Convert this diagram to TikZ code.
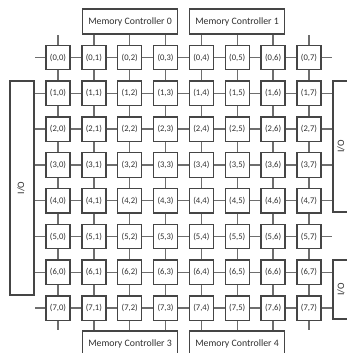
\documentclass[tikz,border=0pt]{standalone}
\usepackage{fontspec}
\setmainfont{Carlito}
\definecolor{boxc}{HTML}{454545}
\definecolor{linkc}{HTML}{6E6E6E}
\definecolor{txtc}{HTML}{303030}
\begin{document}
\begin{tikzpicture}[x=1pt,y=-1pt,
  router/.style={draw=boxc, fill=white, line width=1.3pt, minimum width=24pt, minimum height=24.5pt, inner sep=0pt, font=\fontsize{8.6}{10}\selectfont, text=txtc},
  mc/.style={draw=boxc, fill=white, line width=1.3pt, minimum width=95pt, minimum height=25pt, inner sep=0pt, font=\fontsize{9.8}{11}\selectfont, text=txtc},
  io/.style={draw=boxc, fill=white, line width=1.3pt, minimum width=24pt, inner sep=0pt},
  iolabel/.style={rotate=90, font=\fontsize{9.8}{11}\selectfont, text=txtc, inner sep=0pt},
  link/.style={draw=linkc, line width=1.3pt}]
\useasboundingbox (0,0) rectangle (347,353);
\clip (0,0) rectangle (347,353);
% routers
\foreach \i in {0,...,7}
  \foreach \j in {0,...,7}
    \node[router] (n\i\j) at ({58+35.85*\j},{57.5+35.8*\i}) {(\i,\j)};
% memory controllers
\node[mc] (mc0) at (130,21.5) {Memory Controller 0};
\node[mc] (mc1) at (237,21.5) {Memory Controller 1};
\node[mc] (mc3) at (130,343.5) {Memory Controller 3};
\node[mc] (mc4) at (237,343.5) {Memory Controller 4};
% I/O boxes
\node[io, minimum height=214pt] (iol) at (22,188) {};
\node[io, minimum height=131pt] (ioa) at (345,146.5) {};
\node[io, minimum height=59pt] (iob) at (345,289.5) {};
\node[iolabel] (liol) at (21,188) {I/O};
\node[iolabel] (lioa) at (341,146.5) {I/O};
\node[iolabel] (liob) at (341,289.5) {I/O};
% mesh links
\foreach \i in {0,...,7}
  \foreach \j/\k in {0/1,1/2,2/3,3/4,4/5,5/6,6/7} {
    \draw[link] (n\i\j.east) -- (n\i\k.west);
    \draw[link] (n\j\i.south) -- (n\k\i.north);
  }
% left and right edge links
\foreach \i in {0,...,7} {
  \draw[link] (n\i0.west) -- (n\i0.west -| iol.east);
  \draw[link] (n\i7.east) -- (n\i7.east -| ioa.west);
}
% top and bottom links
\foreach \j in {0,...,3} {
  \draw[link] (n0\j.north) -- (n0\j.north |- mc0.south);
  \draw[link] (n7\j.south) -- (n7\j.south |- mc3.north);
}
\foreach \j in {4,...,7} {
  \draw[link] (n0\j.north) -- (n0\j.north |- mc1.south);
  \draw[link] (n7\j.south) -- (n7\j.south |- mc4.north);
}
\end{tikzpicture}
\end{document}
